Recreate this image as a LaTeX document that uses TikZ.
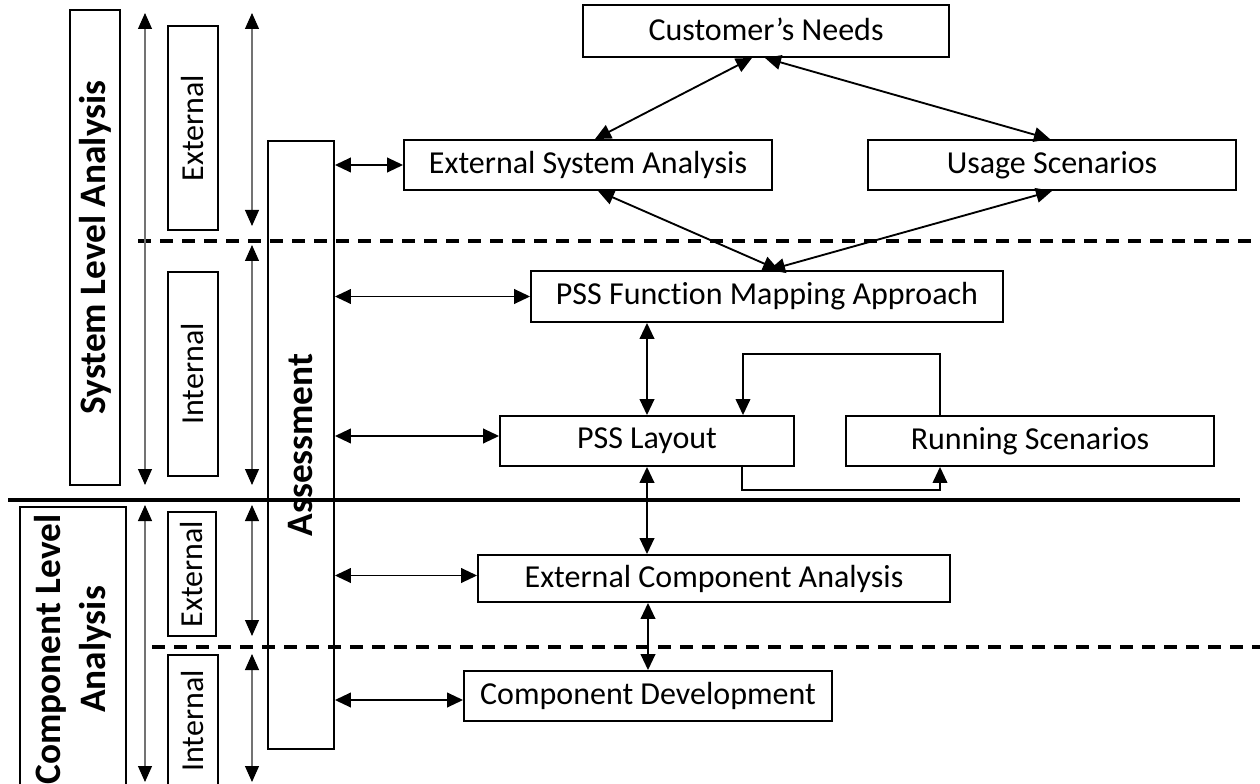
\documentclass[tikz,border=0pt]{standalone}
\usepackage{fontspec}
\setmainfont{Carlito}[Ligatures=NoCommon]
\usetikzlibrary{arrows.meta,calc}
\tikzset{
  sz/.style 2 args={minimum width=#1*0.75pt, minimum height=#2*0.75pt},
  box/.style={draw, line width=1.4pt, inner sep=0pt, font=\fontsize{24}{28}\selectfont, align=center},
  bbox/.style={draw, line width=1.4pt, inner sep=0pt, font=\bfseries\fontsize{28}{34}\selectfont, align=center},
  arr/.style={{Triangle[length=12pt,width=11pt]}-{Triangle[length=12pt,width=11pt]}, line width=1.4pt},
  onearr/.style={-{Triangle[length=12pt,width=11pt]}, line width=1.2pt},
  thinarr/.style={{Triangle[length=12pt,width=10.5pt,color=black]}-{Triangle[length=12pt,width=10.5pt,color=black]}, line width=0.8pt, draw=black!55},
  dashline/.style={line width=2.6pt, dash pattern=on 9.5pt off 7pt},
  solidline/.style={line width=3pt}
}
\begin{document}
\begin{tikzpicture}[x=0.75pt,y=-0.75pt]
\clip (0,0) rectangle (1260,784);
\fill[white] (0,0) rectangle (1260,784);

% right-hand boxes
\node[box, sz={366}{52}] (cn) at (766,31) {\raisebox{2pt}{Customer’s Needs}};
\node[box, sz={368}{50}] (esa) at (588,165) {External System Analysis};
\node[box, sz={368}{50}] (us) at (1052,165) {Usage Scenarios};
\node[box, sz={472}{51}] (pfma) at (767,296.5) {PSS Function Mapping Approach};
\node[box, sz={294}{50}] (pl) at (647,441) {PSS Layout};
\node[box, sz={368}{50}] (rs) at (1030,441) {Running Scenarios};
\node[box, sz={472}{47}] (eca) at (714,578.5) {External Component Analysis};
\node[box, sz={368}{50}] (cd) at (648,696) {Component Development};

% left-hand boxes
\node[bbox, rotate=90, sz={475}{50}] (sla) at (95,247.5) {System Level Analysis};
\node[box, rotate=90, sz={204}{50}] (se) at (193,128) {External};
\node[box, rotate=90, sz={204}{50}] (si) at (193,374) {Internal};
\node[bbox, rotate=90, sz={285}{106}] (cla) at (73,649.5) {Component Level\\Analysis};
\node[box, rotate=90, sz={124}{48}] (ce) at (192,574) {External};
\node[box, rotate=90, sz={132}{50}] (ci) at (193,721) {Internal};
\node[bbox, rotate=90, sz={608}{66}] (asm) at (301,445) {Assessment};

% separators
\draw[dashline] (138,241) -- (1262,241);
\draw[solidline] (8,500) -- (1240,500);
\draw[dashline] (152,647) -- (1262,647);

% left range arrows
\coordinate (a1t) at (145,13);  \coordinate (a1b) at (145,485);
\coordinate (a2t) at (252,13);  \coordinate (a2b) at (252,226);
\coordinate (a3t) at (252,245); \coordinate (a3b) at (252,485);
\coordinate (a4t) at (145,505); \coordinate (a4b) at (145,782);
\coordinate (a5t) at (252,505); \coordinate (a5b) at (252,636);
\coordinate (a6t) at (252,654); \coordinate (a6b) at (252,782);
\draw[thinarr] (a1t) -- (a1b);
\draw[thinarr] (a2t) -- (a2b);
\draw[thinarr] (a3t) -- (a3b);
\draw[thinarr] (a4t) -- (a4b);
\draw[thinarr] (a5t) -- (a5b);
\draw[thinarr] (a6t) -- (a6b);

% connectors
\draw[arr] ($(cn.south)+(-14,0)$) -- ($(esa.north)+(7,0)$);
\draw[arr] ($(cn.south)+(-1,0)$) -- ($(us.north)+(-2,0)$);
\draw[arr] ($(esa.south)+(10,0)$) -- ($(pfma.north)+(12,0)$);
\draw[arr] (us.south) -- ($(pfma.north)+(2,0)$);
\draw[arr] (asm.south |- esa.west) -- (esa.west);
\draw[arr] (asm.south |- pfma.west) -- (pfma.west);
\draw[arr] ($(asm.south |- pl.west)+(0,-5)$) -- ($(pl.west)+(0,-5)$);
\draw[arr] ($(asm.south |- eca.west)+(0,-3)$) -- ($(eca.west)+(0,-3)$);
\draw[arr] ($(asm.south |- cd.west)+(0,4)$) -- ($(cd.west)+(0,4)$);
\draw[arr] (pfma.south -| pl.north) -- (pl.north);
\draw[arr] (pl.south) -- (pl.south |- eca.north);
\draw[arr] (eca.south -| cd.north) -- (cd.north);
\draw[onearr] ($(rs.north)+(-90,0)$) -- ++(0,-61) -| ($(pl.north)+(96,0)$);
\draw[onearr] ($(pl.south)+(95,-2)$) -- ++(0,25) -| ($(rs.south)+(-90,0)$);
\end{tikzpicture}
\end{document}
